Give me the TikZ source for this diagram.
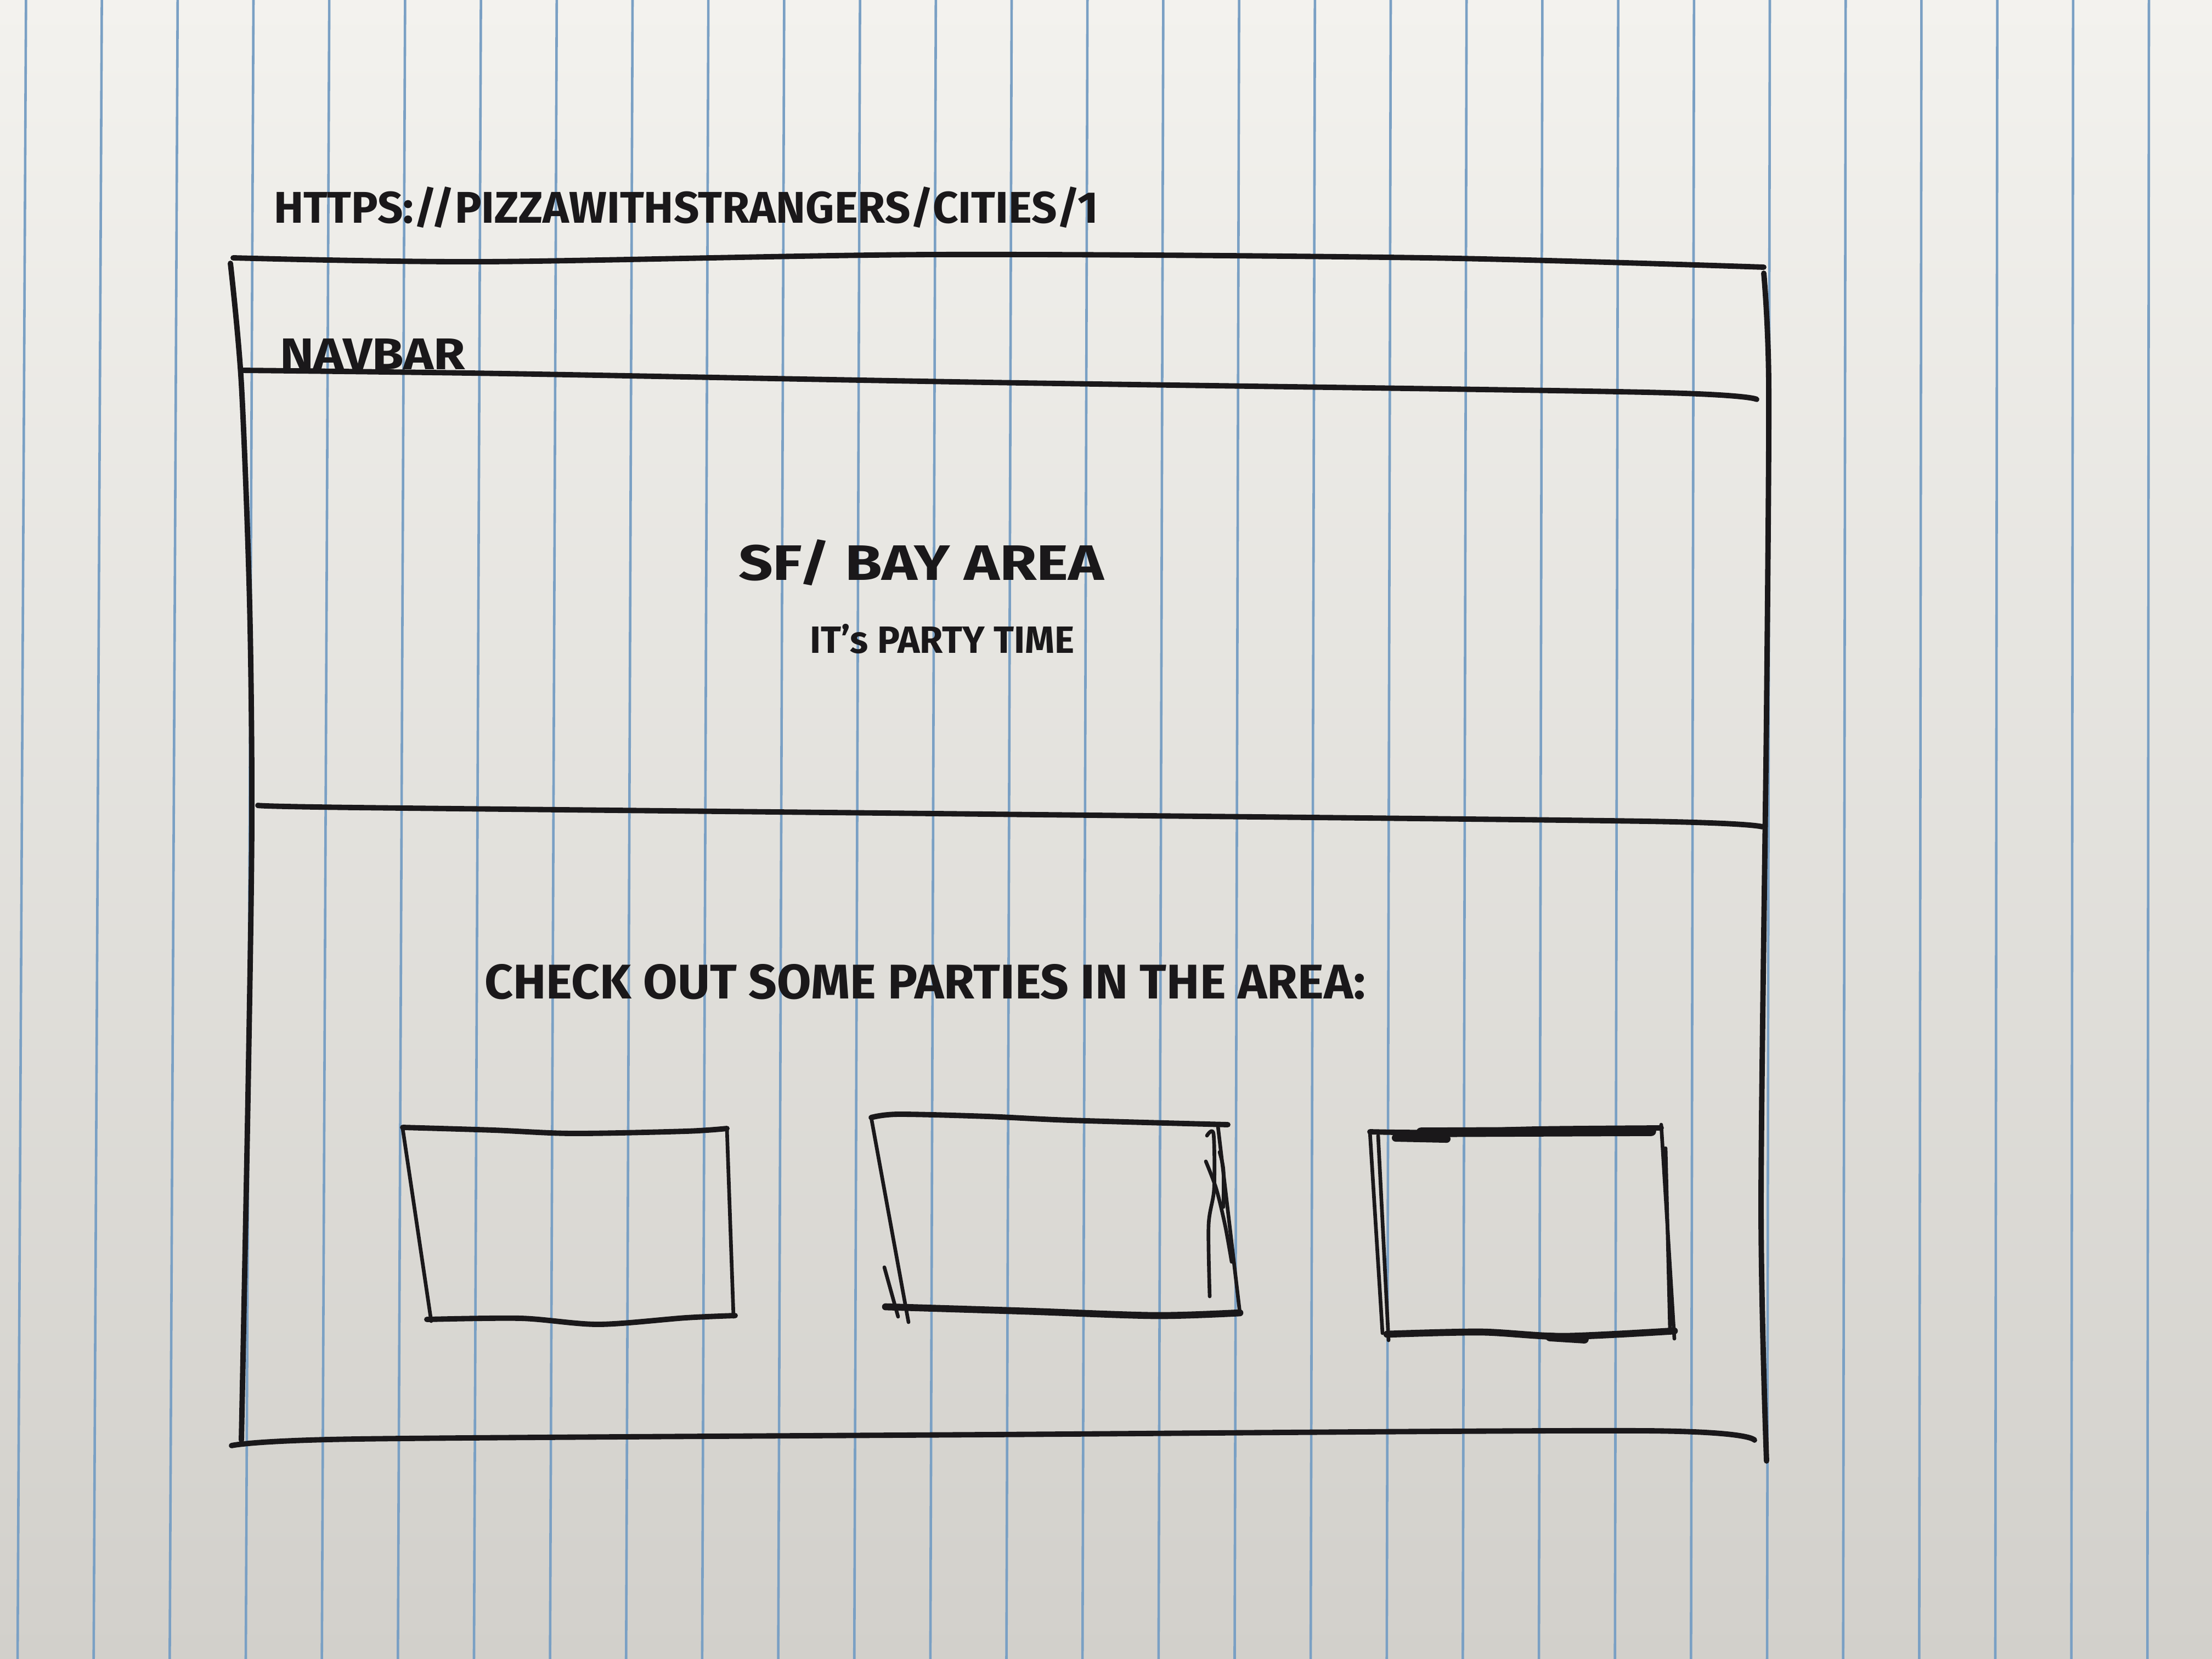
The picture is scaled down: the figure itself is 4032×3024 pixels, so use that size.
\documentclass[tikz,border=0pt]{standalone}
\usepackage{fontspec}
\setmainfont{Fira Sans}
\usepackage{graphicx}
\definecolor{paperTop}{RGB}{243,242,238}
\definecolor{paperMid}{RGB}{229,227,222}
\definecolor{paperBot}{RGB}{210,208,203}
\definecolor{ruleBlue}{RGB}{122,160,196}
\definecolor{inkc}{RGB}{26,24,26}
\tikzset{
  ink/.style={draw=inkc, line width=2.8pt, line cap=round, line join=round},
  thinink/.style={ink, line width=1.9pt},
  heavyink/.style={ink, line width=3.6pt},
  paperrule/.style={draw=ruleBlue, line width=1.3pt},
  hw/.style={inner sep=0pt, outer sep=0pt, text=inkc, anchor=base west, font=\bfseries},
}
\begin{document}
\begin{tikzpicture}[x=0.01cm, y=-0.01cm]
  \useasboundingbox (0,0) rectangle (4032,3024);
  % paper
  \shade[top color=paperTop, middle color=paperMid, bottom color=paperBot] (0,0) rectangle (4032,3024);
  \foreach \k in {-3,...,25} {
    \draw[paperrule] ({462+138.2*\k},0) -- ({448+138.65*\k},3024);
  }
  % texts
  \node[hw] (url) at (499,406) {\resizebox{15.02cm}{0.66cm}{\bfseries HTTPS://PIZZAWITHSTRANGERS/CITIES/1}};
  \node[hw] (navbar) at (510,673) {\resizebox{3.38cm}{0.56cm}{\bfseries NAVBAR}};
  \node[hw] (city) at (1346,1057) {\resizebox{6.66cm}{0.74cm}{\bfseries SF/ BAY AREA}};
  \node[hw] (tagline) at (1476,1190) {\resizebox{4.82cm}{0.53cm}{\bfseries IT's PARTY TIME}};
  \node[hw] (check) at (883,1820) {\resizebox{16.05cm}{0.63cm}{\bfseries CHECK OUT SOME PARTIES IN THE AREA:}};
  % outer frame
  \draw[ink] plot[smooth] coordinates {(425,470) (884,477) (1700,464) (2600,470) (3215,487)};
  \draw[ink] plot[smooth] coordinates {(420,480) (440,700) (455,1100) (459,1500) (452,2000) (440,2625)};
  \draw[ink] plot[smooth] coordinates {(422,2635) (650,2623) (1800,2615) (3000,2608) (3198,2625)};
  \draw[ink] plot[smooth] coordinates {(3215,498) (3224,700) (3220,1300) (3210,2200) (3220,2663)};
  % navbar divider
  \draw[ink] plot[smooth] coordinates {(440,675) (920,681) (1800,697) (3000,715) (3202,728)};
  % hero divider
  \draw[ink] plot[smooth] coordinates {(470,1468) (650,1472) (1800,1484) (3000,1497) (3212,1507)};
  % card 1
  \draw[ink] plot[smooth] coordinates {(734,2055) (900,2060) (1044,2066) (1250,2062) (1325,2057)};
  \draw[thinink] (734,2057) -- (786,2408);
  \draw[thinink] (1325,2057) -- (1337,2400);
  \draw[ink] plot[smooth] coordinates {(778,2405) (950,2403) (1091,2414) (1250,2402) (1340,2398)};
  % card 2
  \draw[ink] plot[smooth] coordinates {(1588,2037) (1637,2031) (1800,2035) (1950,2042) (2238,2050)};
  \draw[thinink] (1588,2037) -- (1656,2410);
  \draw[thinink] (1612,2310) -- (1637,2400);
  \draw[thinink] (2220,2053) -- (2260,2393);
  \draw[thinink] plot[smooth] coordinates {(2200,2070) (2212,2067) (2213,2167) (2203,2233) (2205,2363)};
  \draw[thinink] plot[smooth] coordinates {(2198,2117) (2217,2167) (2233,2233) (2245,2300)};
  \draw[thinink] plot[smooth] coordinates {(2223,2100) (2230,2133) (2230,2200)};
  \draw[heavyink] plot[smooth] coordinates {(1614,2382) (1872,2390) (2106,2398) (2260,2393)};
  % card 3
  \draw[ink] plot[smooth] coordinates {(2497,2063) (2600,2064) (2800,2058) (3028,2056)};
  \draw[ink, line width=5pt] (2590,2064) -- (3010,2062);
  \draw[ink, line width=4pt] (2544,2074) -- (2637,2076);
  \draw[thinink] (2497,2063) -- (2520,2430);
  \draw[thinink] (2512,2070) -- (2531,2443);
  \draw[thinink] (3028,2050) -- (3052,2440);
  \draw[thinink] (3036,2093) -- (3044,2423);
  \draw[heavyink] plot[smooth] coordinates {(2528,2432) (2700,2428) (2850,2436) (3052,2426)};
  \draw[ink, line width=4.5pt] (2825,2437) -- (2888,2441);
\end{tikzpicture}
\end{document}
